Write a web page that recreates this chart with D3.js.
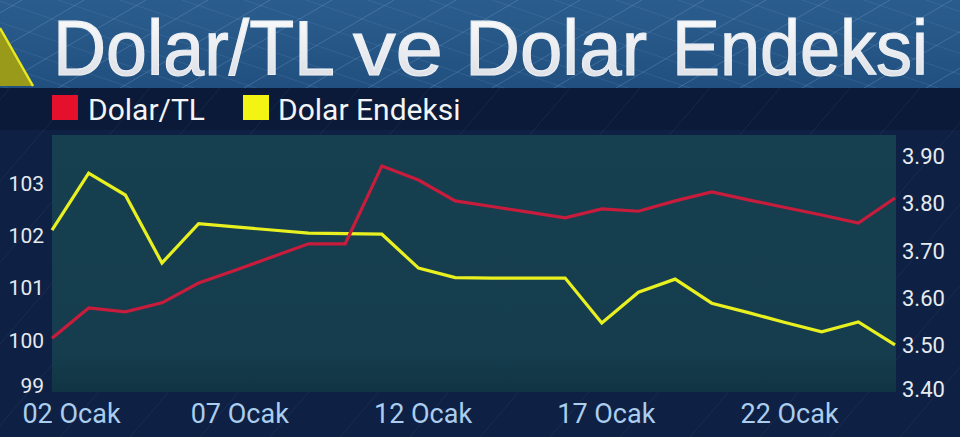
<!DOCTYPE html>
<html><head><meta charset="utf-8">
<script src="https://cdn.jsdelivr.net/npm/d3@7/dist/d3.min.js"></script>
<style>html,body{margin:0;padding:0;background:#0d1f40;overflow:hidden}svg{display:block}</style>
</head><body>
<svg id="c" width="960" height="437"></svg>
<script>
// ---- data ----
const days = ["02","03","04","05","06","07","08","09","10","11","12","13","14","15","16","17","18","19","20","21","22","23","24","25"];
const tickDays = ["02","07","12","17","22"];
const tickLabels = ["02 Ocak","07 Ocak","12 Ocak","17 Ocak","22 Ocak"];
const dolarTL = [3.514,3.578,3.570,3.589,3.631,3.658,3.686,3.714,3.714,3.879,3.849,3.805,3.793,3.781,3.769,3.788,3.783,3.805,3.824,3.807,3.791,3.775,3.758,3.811];
const dolarEndeksi = [102.10,103.19,102.77,101.47,102.22,102.16,102.10,102.04,102.03,102.02,101.37,101.19,101.18,101.18,101.18,100.32,100.91,101.16,100.70,100.52,100.33,100.15,100.34,99.90];
const leftTicks = [99,100,101,102,103];
const rightTicks = [3.40,3.50,3.60,3.70,3.80,3.90];
const seriesNames = ["Dolar/TL","Dolar Endeksi"];
const seriesColors = ["#c81c3c","#e8f020"];
const legendColors = ["#e4102c","#f4f414"];
const titleWords = ["Dolar/TL","ve","Dolar","Endeksi"];

const svg = d3.select("#c");
const W = 960, H = 437;
const P = {l:52, r:896, t:135, b:392};

const defs = svg.append("defs");
const tg = defs.append("linearGradient").attr("id","tband").attr("x1",0).attr("y1",0).attr("x2",0).attr("y2",1);
tg.append("stop").attr("offset","0%").attr("stop-color","#2a5d8e");
tg.append("stop").attr("offset","100%").attr("stop-color","#21507f");
const txg = defs.append("linearGradient").attr("id","ttext").attr("x1",0).attr("y1",0).attr("x2",0).attr("y2",1);
txg.append("stop").attr("offset","0%").attr("stop-color","#ffffff");
txg.append("stop").attr("offset","100%").attr("stop-color","#d6dbe2");
const pg = defs.append("linearGradient").attr("id","pbg").attr("x1",0).attr("y1",0).attr("x2",0).attr("y2",1);
pg.append("stop").attr("offset","0%").attr("stop-color","#163f4f");
pg.append("stop").attr("offset","85%").attr("stop-color","#153d4d");
pg.append("stop").attr("offset","100%").attr("stop-color","#113444");

// background
svg.append("rect").attr("width",W).attr("height",H).attr("fill","#0e2043");
svg.append("rect").attr("width",W).attr("height",88).attr("fill","url(#tband)");
svg.append("rect").attr("y",88).attr("width",W).attr("height",42).attr("fill","#0b1a38");

// diagonal lattice lines
const lat = svg.append("g").attr("stroke","#8fb4dc").attr("stroke-width",0.8).attr("fill","none");
for (let k=-500;k<1500;k+=62){
  lat.append("line").attr("x1",k).attr("y1",88).attr("x2",k+150).attr("y2",0).attr("stroke-opacity",0.35);
  lat.append("line").attr("x1",k).attr("y1",0).attr("x2",k+260).attr("y2",88).attr("stroke-opacity",0.18);
}
const lat2 = svg.append("g").attr("stroke","#7fa3cf").attr("stroke-width",0.7).attr("stroke-opacity",0.15);
for (let k=-500;k<1500;k+=70){
  lat2.append("line").attr("x1",k).attr("y1",437).attr("x2",k+300).attr("y2",88);
}

// triangle top-left
svg.append("path").attr("d","M0,28 L33,86 L0,86 Z").attr("fill","#9a9a1a");
svg.append("line").attr("x1",0).attr("y1",28).attr("x2",33).attr("y2",86).attr("stroke","#e8e820").attr("stroke-width",2.5);

// title (one text per word, placed as in the reference)
const wordX = [53,353,465,672], wordLen = [282,90,182,256];
titleWords.forEach((w,i)=>{
  svg.append("text").attr("x",wordX[i]).attr("y",75).text(w)
    .attr("font-family","Liberation Sans").attr("font-size",78)
    .attr("textLength",wordLen[i]).attr("lengthAdjust","spacingAndGlyphs")
    .attr("fill","url(#ttext)").attr("stroke","#eceff3").attr("stroke-width",1.2);
});

// legend
const lgX = [52,243], lgT = [88,278];
seriesNames.forEach((n,i)=>{
  svg.append("rect").attr("x",lgX[i]).attr("y",95).attr("width",26).attr("height",25).attr("fill",legendColors[i]);
  svg.append("text").attr("x",lgT[i]).attr("y",120).text(n).attr("font-family","Roboto").attr("font-size",30).attr("fill","#f2f4f6");
});

// plot area
svg.append("rect").attr("x",P.l).attr("y",P.t).attr("width",P.r-P.l).attr("height",P.b-P.t).attr("fill","url(#pbg)");

// scales
const x = d3.scalePoint().domain(days).range([P.l, 895]);
const yL = d3.scaleLinear().domain([99,103]).range([392,183]);
const yR = d3.scaleLinear().domain([3.40,3.90]).range([392,156]);

// lines
const lineL = d3.line().x((d,i)=>x(days[i])).y(d=>yL(d));
const lineR = d3.line().x((d,i)=>x(days[i])).y(d=>yR(d));
svg.append("path").datum(dolarEndeksi).attr("d",lineL).attr("fill","none").attr("stroke",seriesColors[1]).attr("stroke-width",3.2).attr("stroke-linejoin","miter");
svg.append("path").datum(dolarTL).attr("d",lineR).attr("fill","none").attr("stroke",seriesColors[0]).attr("stroke-width",3.2).attr("stroke-linejoin","miter");

// axes
const axL = svg.append("g").attr("transform","translate(44,0)")
  .call(d3.axisLeft(yL).tickValues(leftTicks).tickSize(0).tickPadding(0).tickFormat(d3.format("d")));
axL.select(".domain").remove();
axL.selectAll("text").attr("font-family","Roboto").attr("font-size",21).attr("fill","#e6ebf0")
  .attr("dy",(d)=> d===99 ? "-0.0em" : "0.35em");

const axR = svg.append("g").attr("transform","translate(902,0)")
  .call(d3.axisRight(yR).tickValues(rightTicks).tickSize(0).tickPadding(0).tickFormat(d3.format(".2f")));
axR.select(".domain").remove();
axR.selectAll("text").attr("font-family","Roboto").attr("font-size",22).attr("fill","#e6ebf0")
  .attr("dy",(d)=> d===3.40 ? "0.2em" : "0.35em");

const axB = svg.append("g").attr("transform","translate(0,404)")
  .call(d3.axisBottom(x).tickValues(tickDays).tickSize(0).tickPadding(0).tickFormat((d,i)=>tickLabels[i]));
axB.select(".domain").remove();
axB.selectAll("text").attr("font-family","Roboto").attr("font-size",27).attr("fill","#abcdee")
  .attr("dy","0.7em").attr("dx",(d,i)=> i===0 ? 19 : 4);
</script>
</body></html>
